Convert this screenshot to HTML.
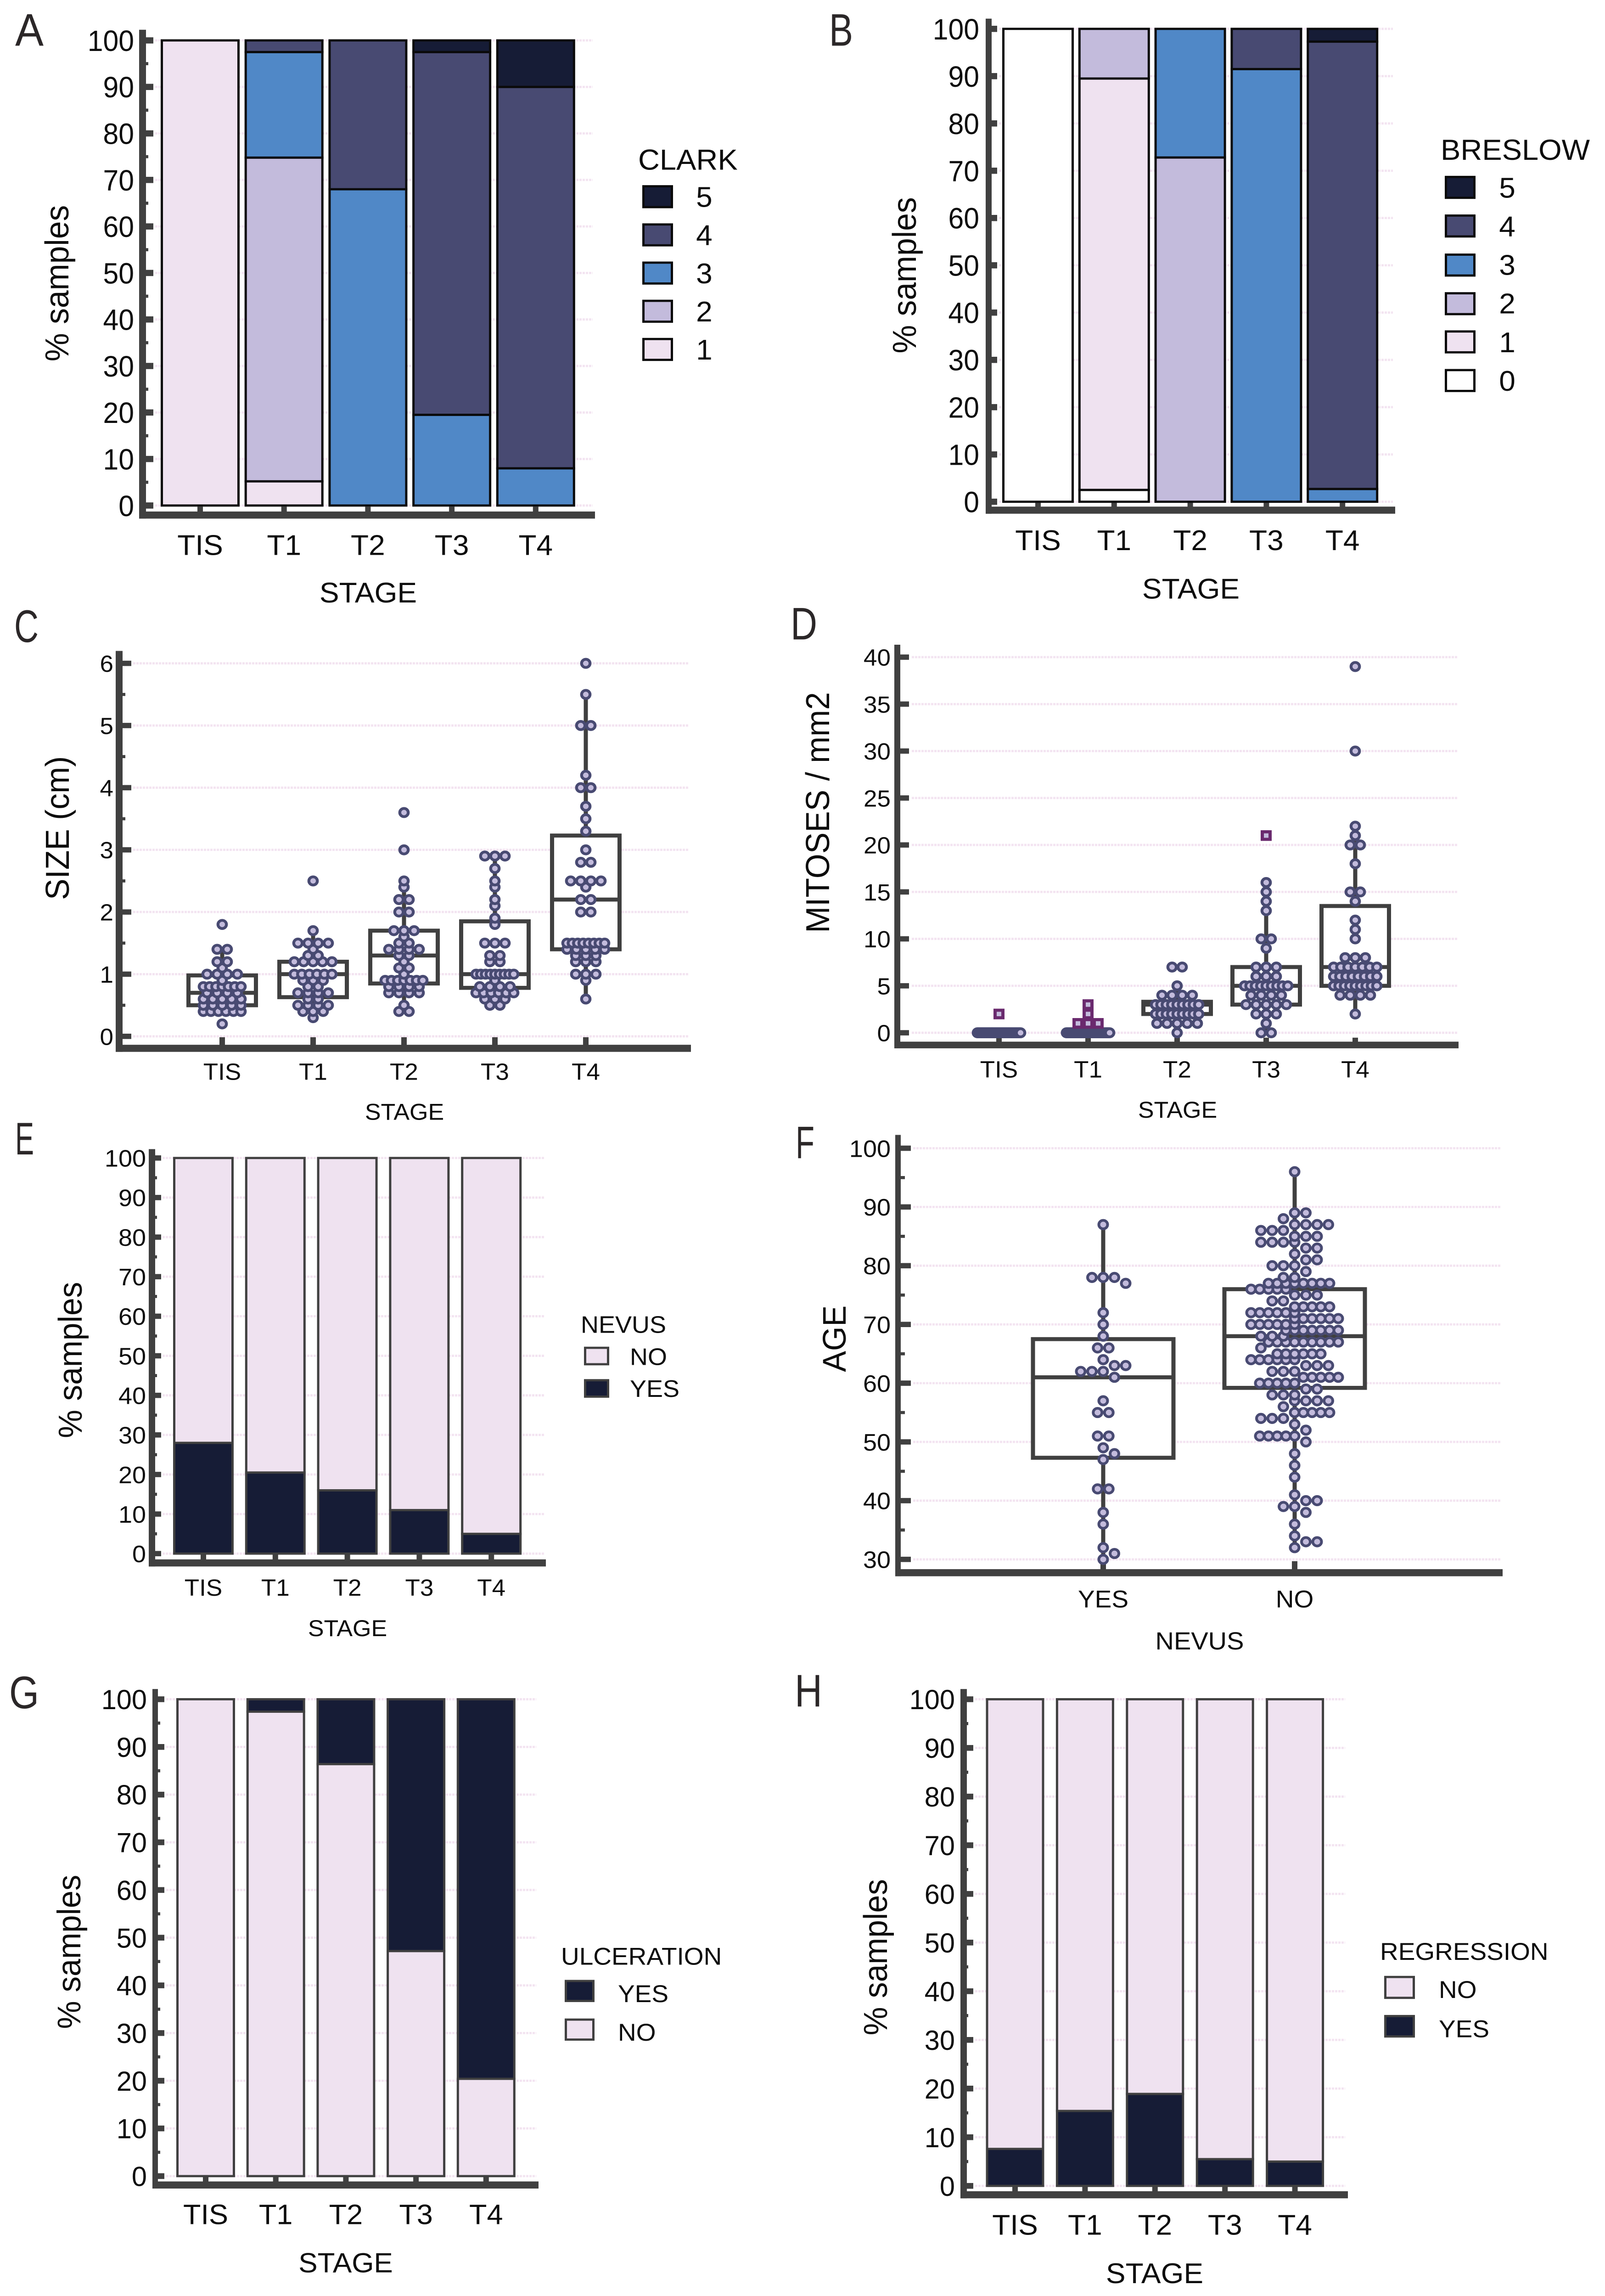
<!DOCTYPE html>
<html lang="en">
<head>
<meta charset="utf-8">
<title>Melanoma stage panels</title>
<style>
html,body{margin:0;padding:0;background:#fff;overflow:hidden;width:100%;height:100%;}
svg{display:block;width:100vw;height:100vh;}
text{font-family:"Liberation Sans",Arial,sans-serif;fill:#0c0c0c;}
.letter{fill:#2b2728;font-size:103px;}
.axt{font-size:64px;text-anchor:middle;}
.leg{stroke-width:5;}
</style>
</head>
<body>
<svg id="figure" xmlns="http://www.w3.org/2000/svg" viewBox="0 0 3496 5171" preserveAspectRatio="none">
<rect x="0" y="0" width="3496" height="5171" fill="#ffffff"/>

<g id="panelA">
<text class="letter" x="33" y="103" textLength="62" lengthAdjust="spacingAndGlyphs">A</text>
<text class="axt" transform="translate(149,638) rotate(-90)" font-size="72" style="font-size:72px">% samples</text>
<text class="axt" x="802" y="1357">STAGE</text>
<g>
<text x="1390" y="382" style="font-size:65px">CLARK</text>
<rect class="leg" x="1401.5" y="419.5" width="62" height="47" fill="#161c36" stroke="#0a0a0a"/>
<rect class="leg" x="1401.5" y="505.5" width="62" height="47" fill="#484a72" stroke="#0a0a0a"/>
<rect class="leg" x="1401.5" y="591.5" width="62" height="47" fill="#5088c7" stroke="#0a0a0a"/>
<rect class="leg" x="1401.5" y="677.5" width="62" height="47" fill="#c3bbdc" stroke="#0a0a0a"/>
<rect class="leg" x="1401.5" y="763.5" width="62" height="47" fill="#efe2f0" stroke="#0a0a0a"/>
<text x="1534" y="466" class="axt">5</text>
<text x="1534" y="552" class="axt">4</text>
<text x="1534" y="638" class="axt">3</text>
<text x="1534" y="724" class="axt">2</text>
<text x="1534" y="810" class="axt">1</text>
</g>
</g>

<g id="panelB">
<text class="letter" x="1806" y="103" textLength="52" lengthAdjust="spacingAndGlyphs">B</text>
<text class="axt" transform="translate(1995,620) rotate(-90)" style="font-size:72px">% samples</text>
<text class="axt" x="2594" y="1348">STAGE</text>
<g>
<text x="3138" y="360" style="font-size:65px">BRESLOW</text>
<rect class="leg" x="3149.5" y="398.5" width="62" height="47" fill="#161c36" stroke="#0a0a0a"/>
<rect class="leg" x="3149.5" y="485.5" width="62" height="47" fill="#484a72" stroke="#0a0a0a"/>
<rect class="leg" x="3149.5" y="573.5" width="62" height="47" fill="#5088c7" stroke="#0a0a0a"/>
<rect class="leg" x="3149.5" y="660.5" width="62" height="47" fill="#c3bbdc" stroke="#0a0a0a"/>
<rect class="leg" x="3149.5" y="746.5" width="62" height="47" fill="#efe2f0" stroke="#0a0a0a"/>
<rect class="leg" x="3149.5" y="833.5" width="62" height="47" fill="#ffffff" stroke="#0a0a0a"/>
<text x="3283" y="445" class="axt">5</text>
<text x="3283" y="532" class="axt">4</text>
<text x="3283" y="619" class="axt">3</text>
<text x="3283" y="706" class="axt">2</text>
<text x="3283" y="793" class="axt">1</text>
<text x="3283" y="880" class="axt">0</text>
</g>
</g>

<g id="panelC">
<text class="letter" x="31" y="1446" textLength="53" lengthAdjust="spacingAndGlyphs">C</text>
<text class="axt" transform="translate(150,1865) rotate(-90)" style="font-size:72px">SIZE (cm)</text>
<text class="axt" x="881" y="2522" style="font-size:52px">STAGE</text>
</g>

<g id="panelD">
<text class="letter" x="1722" y="1440" textLength="58" lengthAdjust="spacingAndGlyphs">D</text>
<text class="axt" transform="translate(1806,1830) rotate(-90)" style="font-size:72px">MITOSES / mm2</text>
<text class="axt" x="2565" y="2517" style="font-size:52px">STAGE</text>
</g>

<g id="panelE">
<text class="letter" x="33" y="2600" textLength="41" lengthAdjust="spacingAndGlyphs">E</text>
<text class="axt" transform="translate(178,3063) rotate(-90)" style="font-size:72px">% samples</text>
<text class="axt" x="757" y="3685" style="font-size:52px">STAGE</text>
<g>
<text x="1265" y="3002" style="font-size:54px">NEVUS</text>
<rect class="leg" x="1274.5" y="3035.5" width="50" height="37" fill="#efe2f0" stroke="#404040"/>
<rect class="leg" x="1274.5" y="3108.5" width="50" height="37" fill="#161c36" stroke="#404040"/>
<text x="1372" y="3074" style="font-size:54px">NO</text>
<text x="1372" y="3146" style="font-size:54px">YES</text>
</g>
</g>

<g id="panelF">
<text class="letter" x="1733" y="2608" textLength="41" lengthAdjust="spacingAndGlyphs">F</text>
<text class="axt" transform="translate(1842,3015) rotate(-90)" style="font-size:71px">AGE</text>
<text class="axt" x="2613" y="3715" style="font-size:56px">NEVUS</text>
</g>

<g id="panelG">
<text class="letter" x="20" y="3847" textLength="65" lengthAdjust="spacingAndGlyphs">G</text>
<text class="axt" transform="translate(175,4396) rotate(-90)" style="font-size:71px">% samples</text>
<text class="axt" x="753" y="5118" style="font-size:62px">STAGE</text>
<g>
<text x="1222" y="4425" style="font-size:55px">ULCERATION</text>
<rect class="leg" x="1232.5" y="4461.5" width="60" height="45" fill="#161c36" stroke="#404040"/>
<rect class="leg" x="1232.5" y="4548.5" width="60" height="45" fill="#efe2f0" stroke="#404040"/>
<text x="1346" y="4509" style="font-size:55px">YES</text>
<text x="1346" y="4596" style="font-size:55px">NO</text>
</g>
</g>

<g id="panelH">
<text class="letter" x="1731" y="3843" textLength="60" lengthAdjust="spacingAndGlyphs">H</text>
<text class="axt" transform="translate(1932,4408) rotate(-90)" style="font-size:72px">% samples</text>
<text class="axt" x="2515" y="5142">STAGE</text>
<g>
<text x="3006" y="4414" style="font-size:55px">REGRESSION</text>
<rect class="leg" x="3017.5" y="4452.5" width="62" height="47" fill="#efe2f0" stroke="#404040"/>
<rect class="leg" x="3017.5" y="4540.5" width="62" height="46" fill="#161c36" stroke="#404040"/>
<text x="3134" y="4500" style="font-size:55px">NO</text>
<text x="3134" y="4588" style="font-size:55px">YES</text>
</g>
</g>
</svg>

<script>
/* ---------- shared categories and tick labels ---------- */
const stages = ['TIS','T1','T2','T3','T4'];
const nevusCats = ['YES','NO'];
const percentTicks = [0,10,20,30,40,50,60,70,80,90,100];
const percentMinor = [5,15,25,35,45,55,65,75,85,95];
const sizeTicks = [0,1,2,3,4,5,6];
const sizeMinor = [0.5,1.5,2.5,3.5,4.5,5.5];
const mitosesTicks = [0,5,10,15,20,25,30,35,40];
const mitosesMinor = [];
const ageTicks = [30,40,50,60,70,80,90,100];
const ageMinor = [35,45,55,65,75,85,95];

/* ---------- stacked percentages (one array per level, per stage) ---------- */
const clark1 = [100,5.2,0,0,0];
const clark2 = [0,69.6,0,0,0];
const clark3 = [0,22.7,68,19.5,8];
const clark4 = [0,2.5,32,78,82];
const clark5 = [0,0,0,2.5,10];

const breslow0 = [100,2.5,0,0,0];
const breslow1 = [0,87,0,0,0];
const breslow2 = [0,10.5,72.8,0,0];
const breslow3 = [0,0,27.2,91.5,2.7];
const breslow4 = [0,0,0,8.5,94.6];
const breslow5 = [0,0,0,0,2.7];

const nevusYes = [28,20.5,16,11,5];
const nevusNo = [72,79.5,84,89,95];

const ulcerNo = [100,97.4,86.4,47.2,20.4];
const ulcerYes = [0,2.6,13.6,52.8,79.6];

const regressionYes = [7.6,15.4,18.9,5.5,5];
const regressionNo = [92.4,84.6,81.1,94.5,95];

/* ---------- panel C: size samples ---------- */
const sizeTIS = [0.2,0.4,0.4,0.4,0.4,0.4,0.4,0.5,0.5,0.5,0.5,0.5,0.6,0.6,0.6,0.6,0.6,0.7,0.7,0.7,0.7,0.8,0.8,0.8,0.8,0.8,0.8,0.8,0.9,1,1,1,1,1.1,1.2,1.2,1.4,1.4,1.8];
const sizeT1 = [0.3,0.4,0.4,0.4,0.5,0.5,0.5,0.5,0.6,0.6,0.7,0.7,0.7,0.7,0.8,0.8,0.9,0.9,0.9,1,1,1,1,1,1,1.2,1.2,1.2,1.2,1.2,1.3,1.3,1.4,1.5,1.5,1.5,1.5,1.7,2.5];
const sizeT2 = [0.4,0.4,0.5,0.7,0.7,0.7,0.7,0.8,0.8,0.8,0.8,0.9,0.9,0.9,0.9,0.9,0.9,0.9,1,1.1,1.1,1.2,1.3,1.3,1.4,1.4,1.4,1.4,1.5,1.5,1.6,1.7,1.7,1.7,2,2,2.2,2.2,2.4,2.5,3,3.6];
const sizeT3 = [0.5,0.5,0.6,0.6,0.6,0.7,0.7,0.7,0.7,0.7,0.7,0.8,0.8,0.8,0.8,0.9,1,1,1,1,1,1,1,1,1,1.2,1.2,1.3,1.3,1.5,1.5,1.5,1.8,1.9,2.1,2.2,2.4,2.5,2.7,2.9,2.9,2.9];
const sizeT4 = [0.6,0.9,1,1,1,1.2,1.2,1.2,1.3,1.3,1.3,1.4,1.4,1.4,1.4,1.4,1.5,1.5,1.5,1.5,1.5,1.5,1.5,1.5,2,2,2.2,2.2,2.4,2.5,2.5,2.5,2.5,2.8,2.8,3,3.3,3.5,3.7,4,4,4.2,5,5,5.5,6];
const sizeQ1 = [0.5,0.63,0.85,0.78,1.4];
const sizeMedian = [0.7,1,1.3,1,2.2];
const sizeQ3 = [0.98,1.2,1.7,1.85,3.23];
const sizeLow = [0.4,0.3,0.4,0.5,0.6];
const sizeHigh = [1.4,1.7,2.5,2.9,5.5];

/* ---------- panel D: mitoses samples ---------- */
const mitosesTIS = [0,0,0,0,0,0,0,0,0,0,0,0,0,0,0,0,0,0,0,0,0,0,0,0,0,0,0,0,0,0,0,0,0,0,0,0,0,0,0,0];
const mitosesT1 = [0,0,0,0,0,0,0,0,0,0,0,0,0,0,0,0,0,0,0,0,0,0,0,0,0,0,0,0,0,0,0,0,0,0,0,0,0,0,0,0];
const mitosesT2 = [0,1,1,1,1,1,2,2,2,2,2,2,2,2,2,3,3,3,3,3,3,3,3,3,4,4,4,4,5,7,7];
const mitosesT3 = [0,0,1,2,2,2,3,3,3,3,3,4,4,4,4,5,5,5,5,5,5,5,5,5,6,6,6,7,7,7,9,10,10,13,14,15,16];
const mitosesT4 = [2,4,4,4,4,5,5,5,5,5,5,5,5,5,6,6,6,6,6,6,6,6,7,7,7,7,7,7,7,8,8,8,10,11,12,14,15,15,18,20,20,21,22,30,39];
const mitosesOutTIS = [2];
const mitosesOutT1 = [1,1,1,2,3];
const mitosesOutT2 = [];
const mitosesOutT3 = [21];
const mitosesOutT4 = [];
const mitosesQ1 = [0,0,2,3,5];
const mitosesMedian = [0,0,3,5,7];
const mitosesQ3 = [0,0,3.3,7,13.5];
const mitosesLow = [0,0,0,0,2];
const mitosesHigh = [0,0,5,16,22];

/* ---------- panel F: age samples ---------- */
const ageYes = [30,31,32,36,38,42,42,47,48,49,51,51,55,55,57,61,62,62,62,63,63,64,66,66,68,70,72,77,78,78,78,87];
const ageNo = [32,33,33,34,36,38,39,39,40,40,41,44,46,48,50,51,51,51,51,51,52,53,54,54,54,55,55,55,55,55,56,57,57,57,57,58,58,58,59,59,
60,60,60,60,60,61,61,61,61,61,62,62,62,63,63,63,64,64,64,64,64,64,65,65,65,65,65,65,66,67,67,67,67,67,67,67,67,67,
68,68,68,69,69,69,69,69,69,69,70,70,70,70,70,70,71,71,71,71,71,71,72,72,72,72,72,72,73,73,73,73,73,74,74,75,75,75,
76,76,76,76,76,77,77,77,77,77,77,77,77,78,78,79,80,80,80,81,81,82,83,83,84,84,84,84,85,85,85,86,86,86,87,87,87,87,88,89,89,96];
const ageQ1 = [47.3,59.2];
const ageMedian = [61,68];
const ageQ3 = [67.5,76];
const ageLow = [30,32];
const ageHigh = [87,96];

/* ---------- colours ---------- */
const C1 = '#efe2f0', C2 = '#c3bbdc', C3 = '#5088c7', C4 = '#484a72', C5 = '#161c36', C0 = '#ffffff';
const AXIS = '#404040';

/* ---------- drawing helpers ---------- */
const NS = 'http://www.w3.org/2000/svg';
function make(parent, tag, attrs) {
  const el = document.createElementNS(NS, tag);
  for (const k in attrs) el.setAttribute(k, attrs[k]);
  parent.appendChild(el);
  return el;
}
function yScale(f) {
  return function (v) { return f.y0 + (v - f.vMin) * (f.yTop - f.y0) / (f.vMax - f.vMin); };
}
function xScale(f) {
  return function (i) { return f.cx0 + i * f.step; };
}
function drawAxes(f, cats, ticks, minors) {
  const g = document.getElementById(f.id);
  const y = yScale(f), x = xScale(f);
  ticks.forEach(function (t) {
    const el = make(g, 'line', {x1: f.gridStart, x2: f.gridEnd, y1: y(t), y2: y(t), stroke: '#f3e4f1', 'stroke-width': 5, 'stroke-dasharray': '5 2'});
    
    
  });
  const ya = make(g, 'rect', {x: f.axisL, y: f.axisTop, width: f.axisW, height: f.xAxisY - f.axisTop + f.xAxisH, fill: AXIS});
  
  
  const xa = make(g, 'rect', {x: f.axisL, y: f.xAxisY, width: f.xAxisEnd - f.axisL, height: f.xAxisH, fill: AXIS});
  
  
  ticks.forEach(function (t) {
    const el = make(g, 'rect', {x: f.axisL, y: y(t) - f.majorH / 2, width: f.majorEnd - f.axisL, height: f.majorH, fill: AXIS});
    
    
    const lab = make(g, 'text', {x: f.labelRight, y: y(t) + f.yFont * 0.36, 'text-anchor': 'end', textLength: String(t).length * 0.556 * f.yFont * f.ySx, lengthAdjust: 'spacingAndGlyphs'});
    lab.style.fontSize = f.yFont + 'px';
    lab.textContent = t;
    
    
  });
  minors.forEach(function (t) {
    const el = make(g, 'rect', {x: f.axisL, y: y(t) - 3.5, width: f.minorEnd - f.axisL, height: 7, fill: AXIS});
    
    
  });
  cats.forEach(function (c, i) {
    const el = make(g, 'rect', {x: x(i) - 6, y: f.xTickTop, width: 12, height: f.xAxisY - f.xTickTop + 1, fill: AXIS});
    
    
    const lab = make(g, 'text', {x: x(i), y: f.xLabelY, 'text-anchor': 'middle'});
    lab.style.fontSize = f.xFont + 'px';
    lab.textContent = c;
    
    
  });
}
function stackedBars(f, cats, series, colors, stroke) {
  const g = document.getElementById(f.id);
  const y = yScale(f), x = xScale(f);
  cats.forEach(function (c, i) {
    let cum = 0;
    series.forEach(function (s, k) {
      const v = s[i];
      if (v <= 0) return;
      const el = make(g, 'rect', {x: x(i) - f.bw / 2, y: y(cum + v), width: f.bw, height: y(cum) - y(cum + v), fill: colors[k], stroke: stroke, 'stroke-width': f.barStroke});
      
      
      cum += v;
    });
  });
}
function rowCounts(values) {
  const m = new Map();
  values.forEach(function (v) { m.set(v, (m.get(v) || 0) + 1); });
  return m;
}
/* symmetric rows: equal values spread evenly around the category centre */
function centeredDots(values, step, span) {
  const out = [];
  rowCounts(values).forEach(function (n, v) {
    const st = n > 1 ? Math.min(step, span / (n - 1)) : step;
    for (let i = 0; i < n; i++) out.push({v: v, dx: (i - (n - 1) / 2) * st});
  });
  return out;
}
/* beeswarm rows: each row is a block slid sideways to avoid rows already placed */
function swarmDots(values, opt, pxPerUnit) {
  const rows = Array.from(rowCounts(values).entries()).sort(function (a, b) { return b[0] - a[0]; });
  const placed = [];
  rows.forEach(function (row) {
    const v = row[0], n = row[1];
    const st = n >= 5 ? opt.dense : opt.step;
    const w = (n - 1) * st;
    const room = Math.max(0, opt.limit - w / 2);
    const cand = [];
    const half = st / 2;
    for (let k = 0; k * half <= room + 0.01; k++) {
      if (opt.evenOnGrid) {
        if ((n % 2 === 0) !== (k % 2 === 1)) continue;
      }
      cand.push(k * half);
      if (k > 0) cand.push(-k * half);
    }
    let best = cand[0], bestHits = Infinity;
    cand.forEach(function (c) {
      let hits = 0;
      for (let i = 0; i < n; i++) {
        const dx = c + (i - (n - 1) / 2) * st;
        placed.forEach(function (p) {
          const dy = (p.v - v) * pxPerUnit;
          if (Math.hypot(p.dx - dx, dy) < opt.minDist) hits++;
        });
      }
      if (hits < bestHits) { bestHits = hits; best = c; }
    });
    for (let i = 0; i < n; i++) placed.push({v: v, dx: best + (i - (n - 1) / 2) * st});
  });
  return placed;
}
function boxWhisker(f, i, q1, med, q3, lo, hi) {
  const g = document.getElementById(f.id);
  const y = yScale(f), cx = xScale(f)(i);
  if (hi > lo) {
    const w = make(g, 'line', {x1: cx, x2: cx, y1: y(lo), y2: y(hi), stroke: AXIS, 'stroke-width': 9});
    
    
  }
  if (q3 > q1) {
    const b = make(g, 'rect', {x: cx - f.boxW / 2, y: y(q3), width: f.boxW, height: y(q1) - y(q3), fill: '#ffffff', stroke: AXIS, 'stroke-width': 9});
    
    
    const m = make(g, 'line', {x1: cx - f.boxW / 2, x2: cx + f.boxW / 2, y1: y(med), y2: y(med), stroke: AXIS, 'stroke-width': 9});
    
    
  }
}
function drawDots(f, i, dots, r, sw) {
  const g = document.getElementById(f.id);
  const y = yScale(f), cx = xScale(f)(i);
  dots.slice().sort(function (a, b) { return a.v - b.v || a.dx - b.dx; }).forEach(function (d) {
    const el = make(g, 'circle', {cx: cx + d.dx, cy: y(d.v), r: r, fill: C2, stroke: C4, 'stroke-width': sw});
    
    
  });
}
function drawSquares(f, i, dots) {
  const g = document.getElementById(f.id);
  const y = yScale(f), cx = xScale(f)(i);
  dots.forEach(function (d) {
    const el = make(g, 'rect', {x: cx + d.dx - 8.5, y: y(d.v) - 8.5, width: 17, height: 17, fill: C2, stroke: '#6a2a6e', 'stroke-width': 7});
    
    
  });
}

/* ---------- panel frames (layout only) ---------- */
const frameA = {id:'panelA', axisL:303, axisW:15, axisTop:67, xAxisY:1152, xAxisH:16, xAxisEnd:1296, y0:1138.5, yTop:91, vMin:0, vMax:100, majorEnd:334, majorH:14, minorEnd:323, gridStart:338, gridEnd:1291, labelRight:292, yFont:66, ySx:0.92, xFont:64, xLabelY:1250, xTickTop:1141, cx0:436, step:182.7, bw:167, barStroke:5};
const frameB = {id:'panelB', axisL:2147, axisW:13, axisTop:42, xAxisY:1141, xAxisH:16, xAxisEnd:3039, y0:1130, yTop:65, vMin:0, vMax:100, majorEnd:2172, majorH:14, minorEnd:2160, gridStart:2176, gridEnd:3034, labelRight:2133, yFont:66, ySx:0.92, xFont:64, xLabelY:1239, xTickTop:1130, cx0:2261, step:165.8, bw:151, barStroke:5};
const frameC = {id:'panelC', axisL:252, axisW:15, axisTop:1466, xAxisY:2353, xAxisH:16, xAxisEnd:1505, y0:2334, yTop:1494, vMin:0, vMax:6, majorEnd:286, majorH:12, minorEnd:273, gridStart:290, gridEnd:1499, labelRight:247, yFont:53, ySx:1, xFont:53, xLabelY:2432, xTickTop:2336, cx0:484, step:198, boxW:147};
const frameD = {id:'panelD', axisL:1948, axisW:13, axisTop:1452, xAxisY:2346, xAxisH:15, xAxisEnd:3177, y0:2326, yTop:1480, vMin:0, vMax:40, majorEnd:1980, majorH:12, minorEnd:1961, gridStart:1986, gridEnd:3174, labelRight:1940, yFont:53, ySx:1, xFont:53, xLabelY:2427, xTickTop:2337, cx0:2176, step:194, boxW:147};
const frameE = {id:'panelE', axisL:324, axisW:14, axisTop:2588, xAxisY:3512, xAxisH:16, xAxisEnd:1189, y0:3499, yTop:2608, vMin:0, vMax:100, majorEnd:351, majorH:12, minorEnd:342, gridStart:354, gridEnd:1185, labelRight:318, yFont:54, ySx:1, xFont:53, xLabelY:3594, xTickTop:3500, cx0:443, step:156.8, bw:127, barStroke:5};
const frameF = {id:'panelF', axisL:1950, axisW:12, axisTop:2556, xAxisY:3534, xAxisH:16, xAxisEnd:3273, y0:3512, yTop:2586, vMin:30, vMax:100, majorEnd:1984, majorH:12, minorEnd:1971, gridStart:1989, gridEnd:3269, labelRight:1940, yFont:54, ySx:1, xFont:55, xLabelY:3620, xTickTop:3516, cx0:2403, step:417, boxW:306};
const frameG = {id:'panelG', axisL:332, axisW:12, axisTop:3804, xAxisY:4913, xAxisH:16, xAxisEnd:1173, y0:4901, yTop:3827, vMin:0, vMax:100, majorEnd:358, majorH:13, minorEnd:349, gridStart:362, gridEnd:1168, labelRight:320, yFont:62, ySx:0.96, xFont:63, xLabelY:5009, xTickTop:4902, cx0:448, step:152.7, bw:123, barStroke:5};
const frameH = {id:'panelH', axisL:2092, axisW:14, axisTop:3804, xAxisY:4935, xAxisH:16, xAxisEnd:2936, y0:4923, yTop:3827, vMin:0, vMax:100, majorEnd:2120, majorH:13, minorEnd:2109, gridStart:2124, gridEnd:2930, labelRight:2080, yFont:62, ySx:0.96, xFont:64, xLabelY:5033, xTickTop:4924, cx0:2211, step:152.4, bw:122, barStroke:5};

/* ---------- stacked panels ---------- */
drawAxes(frameA, stages, percentTicks, percentMinor);
stackedBars(frameA, stages, [clark1, clark2, clark3, clark4, clark5], [C1, C2, C3, C4, C5], '#0a0a0a');
drawAxes(frameB, stages, percentTicks, percentMinor);
stackedBars(frameB, stages, [breslow0, breslow1, breslow2, breslow3, breslow4, breslow5], [C0, C1, C2, C3, C4, C5], '#0a0a0a');
drawAxes(frameE, stages, percentTicks, percentMinor);
stackedBars(frameE, stages, [nevusYes, nevusNo], [C5, C1], AXIS);
drawAxes(frameG, stages, percentTicks, percentMinor);
stackedBars(frameG, stages, [ulcerNo, ulcerYes], [C1, C5], AXIS);
drawAxes(frameH, stages, percentTicks, percentMinor);
stackedBars(frameH, stages, [regressionYes, regressionNo], [C5, C1], AXIS);

/* ---------- panel C ---------- */
drawAxes(frameC, stages, sizeTicks, sizeMinor);
[sizeTIS, sizeT1, sizeT2, sizeT3, sizeT4].forEach(function (vals, i) {
  boxWhisker(frameC, i, sizeQ1[i], sizeMedian[i], sizeQ3[i], sizeLow[i], sizeHigh[i]);
  drawDots(frameC, i, centeredDots(vals, 22, 82), 9.2, 6.3);
});

/* ---------- panel D ---------- */
drawAxes(frameD, stages, mitosesTicks, mitosesMinor);
[mitosesTIS, mitosesT1, mitosesT2, mitosesT3, mitosesT4].forEach(function (vals, i) {
  boxWhisker(frameD, i, mitosesQ1[i], mitosesMedian[i], mitosesQ3[i], mitosesLow[i], mitosesHigh[i]);
  drawDots(frameD, i, centeredDots(vals, 22, 94), 9.2, 6.3);
});
[mitosesOutTIS, mitosesOutT1, mitosesOutT2, mitosesOutT3, mitosesOutT4].forEach(function (vals, i) {
  drawSquares(frameD, i, centeredDots(vals, 22, 94));
});

/* ---------- panel F ---------- */
drawAxes(frameF, nevusCats, ageTicks, ageMinor);
const agePx = (frameF.y0 - frameF.yTop) / (frameF.vMax - frameF.vMin);
boxWhisker(frameF, 0, ageQ1[0], ageMedian[0], ageQ3[0], ageLow[0], ageHigh[0]);
drawDots(frameF, 0, swarmDots(ageYes, {step:24.5, dense:19, limit:60, minDist:20, evenOnGrid:false}, agePx), 9.5, 6);
boxWhisker(frameF, 1, ageQ1[1], ageMedian[1], ageQ3[1], ageLow[1], ageHigh[1]);
drawDots(frameF, 1, swarmDots(ageNo, {step:24.5, dense:19, limit:97, minDist:20, evenOnGrid:true}, agePx), 9.5, 6);
</script>
</body>
</html>
